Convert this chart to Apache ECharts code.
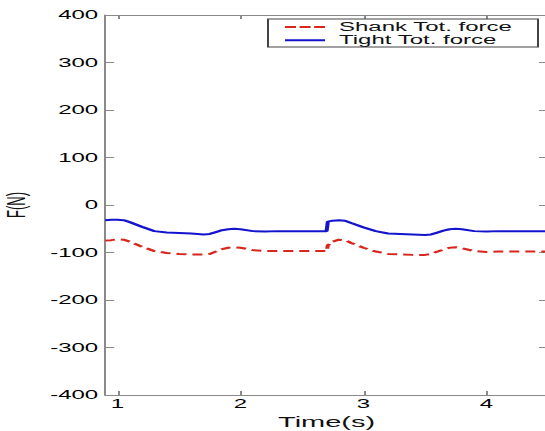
<!DOCTYPE html>
<html>
<head>
<meta charset="utf-8">
<script src="https://cdn.jsdelivr.net/npm/echarts@6/dist/echarts.min.js"></script>
<style>
html,body{margin:0;padding:0;background:#fff;overflow:hidden;width:545px;height:431px;}
#c{width:272.5px;height:431px;transform:scaleX(2);transform-origin:0 0;}
</style>
</head>
<body>
<div id="c"></div>
<script>
// Data
var timeS = [0.90,0.95,1.00,1.05,1.10,1.20,1.30,1.40,1.50,1.60,1.70,1.75,1.80,1.85,1.90,1.95,2.00,2.10,2.20,2.30,2.40,2.50,2.60,2.70,2.71,2.75,2.80,2.85,2.90,3.00,3.10,3.20,3.30,3.40,3.50,3.55,3.60,3.65,3.70,3.75,3.80,3.90,4.00,4.10,4.20,4.30,4.40,4.50];
var shankTot = [-75,-74,-72,-73,-77,-88,-97,-101,-103,-104,-104,-103,-98,-93,-90,-89,-90,-95,-97,-97,-97,-97,-97,-97,-85,-77,-73,-74,-80,-90,-98,-103,-104,-105,-105,-103,-98,-94,-90,-89,-91,-97,-99,-98,-98,-98,-98,-98];
var tightTot = [-32,-31,-31,-32,-36,-46,-55,-58,-59,-60,-62,-61,-57,-53,-51,-50,-51,-55,-56,-55,-55,-55,-55,-55,-35,-33,-32,-33,-38,-47,-55,-60,-61,-62,-63,-62,-58,-54,-51,-50,-51,-55,-56,-55,-55,-55,-55,-55];
var seriesNames = ['Shank Tot. force', 'Tight Tot. force'];
var xTicks = [1, 2, 3, 4];
var xLabel = 'Time(s)';
var yLabel = 'F(N)';

function pairs(xs, ys){ return xs.map(function(x,i){ return [x, ys[i]]; }); }

var font = "'Liberation Sans', Arial, Helvetica, sans-serif";
var axisCol = '#8a8a8a';
var redCol = '#d8261c';
var blueCol = '#1414cc';
var chart = echarts.init(document.getElementById('c'), null, {renderer:'svg'});
chart.setOption({
  animation:false,
  backgroundColor:'#fff',
  grid:{left:52.6, top:15, width:221.4, bottom:36, containLabel:false, outerBoundsMode:'none'},
  graphic:[{
    type:'rect', z:3, silent:true,
    shape:{x:134, y:19, width:135, height:28},
    style:{fill:'#fff', stroke:'#444', lineWidth:1}
  }],
  legend:{
    orient:'vertical', left:134, top:19, z:5,
    data:[
      {name:seriesNames[0], icon:'path://M0,0h5.5v2h-5.5z M7.3,0h5.5v2h-5.5z M14.6,0h5.4v2h-5.4z', itemStyle:{color:redCol}},
      {name:seriesNames[1], icon:'path://M0,0h20v2h-20z', itemStyle:{color:blueCol}}
    ],
    itemWidth:20, itemHeight:2, itemGap:1.3,
    padding:[2,2,1,8.5],
    borderWidth:0,
    textStyle:{fontFamily:font, fontSize:12, color:'#111', lineHeight:12, padding:[0,0,0,2]}
  },
  xAxis:[{
    type:'value', min:0.9, max:4.5, position:'bottom',
    name:xLabel, nameLocation:'middle', nameGap:16,
    nameTextStyle:{fontFamily:font, fontSize:14.5, color:'#111'},
    axisLine:{show:true, onZero:false, lineStyle:{color:axisCol, width:1}},
    axisTick:{show:true, inside:true, length:4, customValues:xTicks, lineStyle:{color:axisCol}},
    axisLabel:{show:true, margin:3, customValues:xTicks, fontFamily:font, fontSize:12, color:'#000'},
    splitLine:{show:false}
  },{
    type:'value', min:0.9, max:4.5, position:'top',
    axisLine:{show:true, onZero:false, lineStyle:{color:axisCol, width:1}},
    axisTick:{show:true, inside:true, length:4, customValues:xTicks, lineStyle:{color:axisCol}},
    axisLabel:{show:false},
    splitLine:{show:false}
  }],
  yAxis:[{
    type:'value', min:-400, max:400, interval:100, position:'left',
    name:yLabel, nameLocation:'middle', nameGap:36.5,
    nameTextStyle:{fontFamily:font, fontSize:13, color:'#111'},
    axisLine:{show:true, onZero:false, lineStyle:{color:axisCol, width:1}},
    axisTick:{show:true, inside:true, length:4.5, lineStyle:{color:axisCol}},
    axisLabel:{margin:3.5, fontFamily:font, fontSize:12, color:'#000'},
    splitLine:{show:false}
  },{
    type:'value', min:-400, max:400, interval:100, position:'right',
    axisLine:{show:true, onZero:false, lineStyle:{color:axisCol, width:1}},
    axisTick:{show:true, inside:true, length:4.5, lineStyle:{color:axisCol}},
    axisLabel:{show:false},
    splitLine:{show:false}
  }],
  series:[{
    name:seriesNames[0], type:'line', symbol:'none', xAxisIndex:0, yAxisIndex:0,
    data:pairs(timeS, shankTot),
    lineStyle:{color:redCol, width:2, type:[5,3]},
    itemStyle:{color:redCol}
  },{
    name:seriesNames[1], type:'line', symbol:'none', xAxisIndex:0, yAxisIndex:0,
    data:pairs(timeS, tightTot),
    lineStyle:{color:blueCol, width:2, type:'solid'},
    itemStyle:{color:blueCol}
  }]
});
</script>
</body>
</html>
